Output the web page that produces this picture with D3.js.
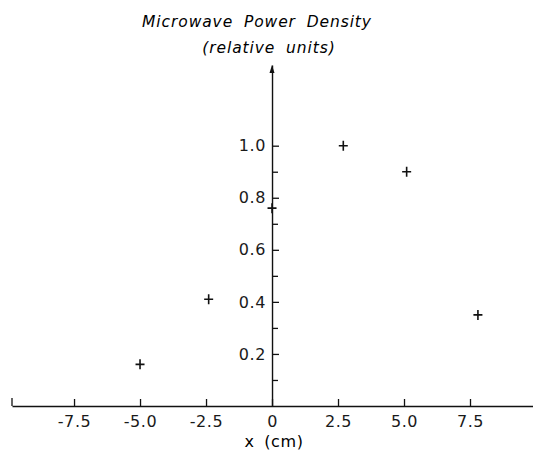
<html>
  <meta charset="utf-8" />
  <script src="https://d3js.org/d3.v7.min.js"></script>
  <body style="margin: 0; background: white;">
    <svg width="533" height="469" id="chart"></svg>

    <script>
      // values
      const xPos = [-5.0, -2.4, 0.0, 2.7, 5.1, 7.8];
      const density = [0.16, 0.41, 0.76, 1.0, 0.9, 0.35];

      const xTicks = [-7.5, -5.0, -2.5, 0, 2.5, 5.0, 7.5];
      const xTickLabels = ["-7.5", "-5.0", "-2.5", "0", "2.5", "5.0", "7.5"];
      const yTicks = [0.2, 0.4, 0.6, 0.8, 1.0];
      const yTickLabels = ["0.2", "0.4", "0.6", "0.8", "1.0"];
      const yMinor = [0.1, 0.3, 0.5, 0.7, 0.9];

      const svg = d3.select("#chart");
      const font = "'DejaVu Sans', sans-serif";

      const xScale = d3.scaleLinear().domain([-9.85, 10]).range([12, 536]);
      const yScale = d3.scaleLinear().domain([0, 1.31]).range([406, 65]);

      // x axis, ticks pointing up
      svg
        .append("g")
        .attr("transform", `translate(0, ${yScale(0)})`)
        .call(
          d3
            .axisBottom(xScale)
            .tickValues(xTicks)
            .tickFormat((d, i) => xTickLabels[i])
            .tickSizeInner(-7)
            .tickSizeOuter(0)
            .tickPadding(10)
        );

      // small end tick at the left end of the x axis
      const x0 = xScale.range()[0];
      svg
        .append("line")
        .attr("x1", x0)
        .attr("x2", x0)
        .attr("y1", yScale(0))
        .attr("y2", yScale(0) - 8)
        .attr("stroke", "#111")
        .attr("stroke-width", 1.3);

      // y axis at x = 0, ticks pointing right
      svg
        .append("g")
        .attr("transform", `translate(${xScale(0)}, 0)`)
        .call(
          d3
            .axisLeft(yScale)
            .tickValues(yTicks)
            .tickFormat((d, i) => yTickLabels[i])
            .tickSizeInner(-7)
            .tickSizeOuter(0)
            .tickPadding(6)
        );

      svg
        .append("g")
        .attr("transform", `translate(${xScale(0)}, 0)`)
        .call(
          d3
            .axisLeft(yScale)
            .tickValues(yMinor)
            .tickFormat("")
            .tickSizeInner(-6)
            .tickSizeOuter(0)
        )
        .select(".domain")
        .remove();

      svg.selectAll(".domain").attr("stroke", "#111").attr("stroke-width", 1.4);
      svg.selectAll(".tick line").attr("stroke", "#111").attr("stroke-width", 1.3);
      svg
        .selectAll(".tick text")
        .attr("font-family", font)
        .attr("font-size", 16)
        .attr("letter-spacing", 0.6)
        .attr("fill", "#1a1a1a");

      // arrow head on top of y axis
      const ax = xScale(0);
      const ay = yScale(1.31);
      svg
        .append("path")
        .attr("d", `M${ax - 2.5},${ay + 8} L${ax},${ay} L${ax + 2.5},${ay + 8} Z`)
        .attr("fill", "#111");

      // data points as "+" marks
      svg
        .selectAll(".pt")
        .data(xPos)
        .enter()
        .append("path")
        .attr("class", "pt")
        .attr("d", (d, i) => {
          const px = xScale(d);
          const py = yScale(density[i]);
          return `M${px - 4.5},${py} H${px + 4.5} M${px},${py - 5} V${py + 5}`;
        })
        .attr("stroke", "#111")
        .attr("stroke-width", 1.6);

      // titles
      svg
        .append("text")
        .attr("x", 257)
        .attr("y", 27)
        .attr("text-anchor", "middle")
        .attr("font-family", font)
        .attr("font-style", "italic")
        .attr("font-size", 15.5)
        .attr("letter-spacing", 0.9)
        .attr("word-spacing", 5)
        .text("Microwave Power Density");

      svg
        .append("text")
        .attr("x", 269)
        .attr("y", 53)
        .attr("text-anchor", "middle")
        .attr("font-family", font)
        .attr("font-style", "italic")
        .attr("font-size", 15.5)
        .attr("letter-spacing", 0.9)
        .attr("word-spacing", 5)
        .text("(relative units)");

      svg
        .append("text")
        .attr("x", 274)
        .attr("y", 447)
        .attr("text-anchor", "middle")
        .attr("font-family", font)
        .attr("font-size", 16)
        .attr("letter-spacing", 0.6)
        .attr("word-spacing", 4)
        .text("x (cm)");
    </script>
  </body>
</html>
